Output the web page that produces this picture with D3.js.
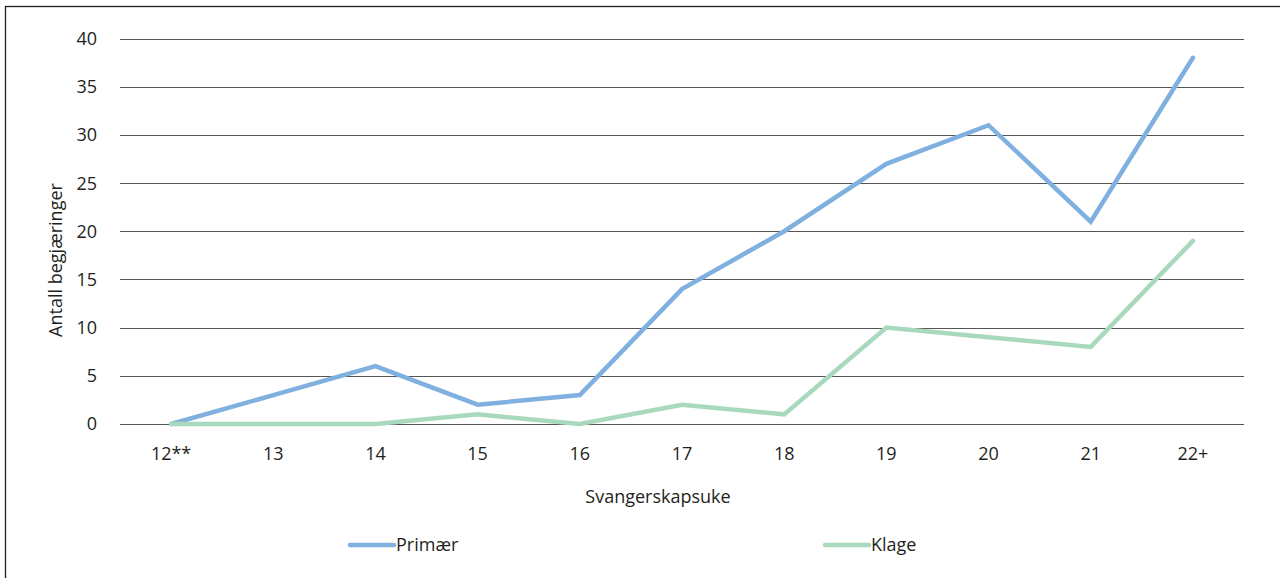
<!DOCTYPE html>
<html>
<head>
<meta charset="utf-8">
<script src="https://cdn.jsdelivr.net/npm/d3@7"></script>
<style>
  html, body { margin: 0; padding: 0; background: #fff; }
  svg { display: block; }
  text { font-family: "Open Sans", "Noto Sans", sans-serif; fill: #231f20; }
</style>
</head>
<body>
<svg id="chart" width="1280" height="578"></svg>
<script>
// Pregnancy week categories and number of requests per week
const weeks = ["12**", "13", "14", "15", "16", "17", "18", "19", "20", "21", "22+"];
const primaer = [0, 3, 6, 2, 3, 14, 20, 27, 31, 21, 38];
const klage = [0, 0, 0, 1, 0, 2, 1, 10, 9, 8, 19];
const yTicks = [0, 5, 10, 15, 20, 25, 30, 35, 40];

const seriesNames = ["Primær", "Klage"];
const seriesColors = ["#7fb0df", "#a9d9bd"];

const fontSize = 18;
const svg = d3.select("#chart");

// Outer frame
svg.append("rect")
  .attr("x", 5.5).attr("y", 6.5)
  .attr("width", 1290).attr("height", 600)
  .attr("fill", "none").attr("stroke", "#231f20").attr("stroke-width", 1.3);

const x = d3.scaleBand().domain(weeks).range([120, 1244]);
const y = d3.scaleLinear().domain([0, 40]).range([424, 38.5]);

// Horizontal gridlines
svg.append("g").selectAll("line").data(yTicks).join("line")
  .attr("x1", 120).attr("x2", 1244)
  .attr("y1", d => Math.round(y(d)) + 0.5).attr("y2", d => Math.round(y(d)) + 0.5)
  .attr("stroke", "#555").attr("stroke-width", 1);

// Y axis tick labels
svg.append("g").selectAll("text").data(yTicks).join("text")
  .attr("x", 97).attr("y", d => y(d))
  .attr("dy", "0.36em")
  .attr("text-anchor", "end")
  .attr("font-size", fontSize)
  .text(d => d);

// X axis tick labels
svg.append("g").selectAll("text").data(weeks).join("text")
  .attr("x", d => x(d) + x.bandwidth() / 2).attr("y", 460)
  .attr("text-anchor", "middle")
  .attr("font-size", fontSize)
  .text(d => d);

// Axis titles
svg.append("text")
  .attr("x", 658).attr("y", 503)
  .attr("text-anchor", "middle")
  .attr("font-size", fontSize)
  .text("Svangerskapsuke");

svg.append("text")
  .attr("transform", "translate(62,260) rotate(-90)")
  .attr("text-anchor", "middle")
  .attr("font-size", fontSize)
  .text("Antall begjæringer");

// Lines
const line = d3.line()
  .x((d, i) => x(weeks[i]) + x.bandwidth() / 2)
  .y(d => y(d));

[primaer, klage].forEach((vals, k) => {
  svg.append("path")
    .datum(vals)
    .attr("fill", "none")
    .attr("stroke", seriesColors[k])
    .attr("stroke-width", 4.5)
    .attr("stroke-linejoin", "miter")
    .attr("stroke-linecap", "round")
    .attr("d", line);
});

// Legend
const legendX = [350, 825];
seriesNames.forEach((name, k) => {
  const g = svg.append("g").attr("transform", `translate(${legendX[k]},545)`);
  g.append("line")
    .attr("x1", 0).attr("x2", 44)
    .attr("stroke", seriesColors[k]).attr("stroke-width", 4.5)
    .attr("stroke-linecap", "round");
  g.append("text")
    .attr("x", 46).attr("dy", "0.36em")
    .attr("font-size", fontSize)
    .text(name);
});
</script>
</body>
</html>
